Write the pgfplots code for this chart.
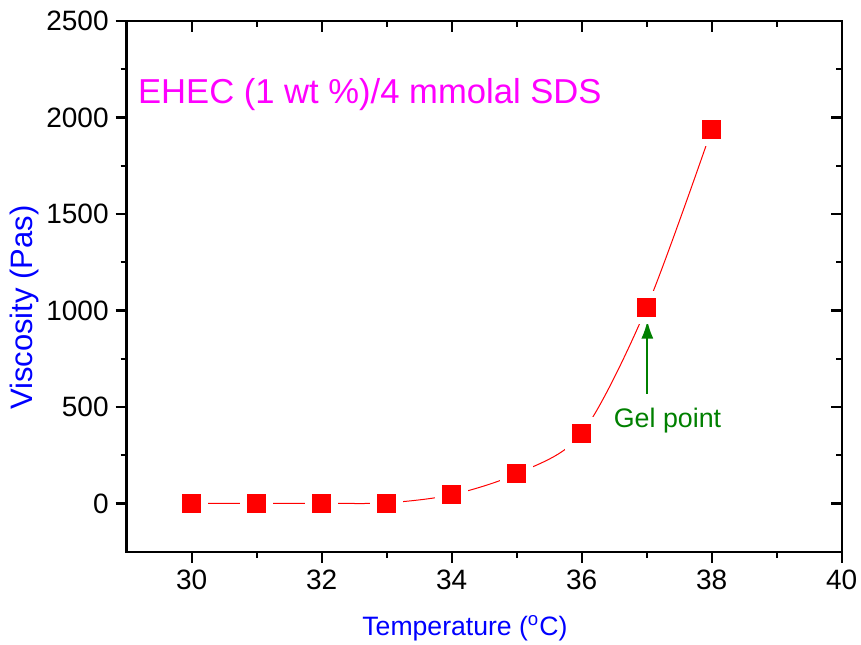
\documentclass[border=0pt]{standalone}
\usepackage{fontspec}
\setmainfont{Liberation Sans}
\usepackage{pgfplots}
\pgfplotsset{compat=1.18}
\usetikzlibrary{arrows.meta}

\definecolor{gelgreen}{RGB}{0,128,0}
\definecolor{labblue}{RGB}{0,0,255}
\definecolor{ttlmag}{RGB}{255,0,255}

\pgfplotsset{
  frame/.style={
    scale only axis,
    width=357.5pt, height=265.35pt,
    xmin=29, xmax=40, ymin=-250, ymax=2500,
    xtick={30,32,...,40}, ytick={0,500,...,2500},
    minor x tick num=1, minor y tick num=1,
    axis line style={line width=1.2pt},
    every tick/.style={black, line width=1.2pt},
    major tick length=5.5pt, minor tick length=3pt,
    /pgf/number format/assume math mode=true,
    /pgf/number format/1000 sep={},
    ticklabel style={font=\fontsize{14}{16}\selectfont},
  }
}

\begin{document}
\begin{tikzpicture}
\begin{axis}[
  frame,
  xtick pos=left, ytick pos=left, tick align=outside,
  xlabel={Temperature (\textsuperscript{o}C)},
  ylabel={Viscosity (Pas)},
  label style={text=labblue},
  x label style={at={(axis description cs:0.473,-0.1583)}, anchor=base,
    font=\fontsize{13.3}{16}\selectfont},
  y label style={at={(axis description cs:-0.1427,0.46)}, anchor=center,
    font=\fontsize{15.5}{18}\selectfont},
]
% line first, then white squares to open gaps round the marks
\addplot[smooth, tension=0.5, red, line width=0.5pt] coordinates {
  (30,0) (31,1) (32,1) (33,3) (34,45) (35,154) (36,362) (37,1016) (38,1938)
};
\addplot[only marks, mark=square*, mark size=8pt,
  mark options={fill=white, draw=white}] coordinates {
  (30,0) (31,1) (32,1) (33,3) (34,45) (35,154) (36,362) (37,1016) (38,1938)
};
\addplot[only marks, mark=square*, mark size=4.5pt,
  mark options={fill=red, draw=red, line width=0.3pt}] coordinates {
  (30,0) (31,1) (32,1) (33,3) (34,45) (35,154) (36,362) (37,1016) (38,1938)
};

\node[anchor=base west, inner sep=0pt, text=ttlmag, font=\fontsize{17.3}{20}\selectfont]
  at (axis cs:29.17,2075) {EHEC (1 wt \%)/4 mmolal SDS};
\draw[-{Latex[length=9pt,width=6pt]}, gelgreen, line width=0.9pt]
  (axis cs:37.01,569) -- (axis cs:37.01,948);
\node[anchor=base, text=gelgreen, font=\fontsize{13.4}{16}\selectfont]
  at (axis cs:37.32,393) {Gel point};

\coordinate (sw) at (rel axis cs:0,0);
\coordinate (ne) at (rel axis cs:1,1);
\end{axis}
\begin{axis}[
  frame,
  xtick pos=right, ytick pos=right, tick align=inside,
  xticklabels={}, yticklabels={},
]
\end{axis}
\pgfresetboundingbox
\path ([shift={(-63.35pt,-46.15pt)}]sw) rectangle ([shift={(9.65pt,10.5pt)}]ne);
\end{tikzpicture}
\end{document}
